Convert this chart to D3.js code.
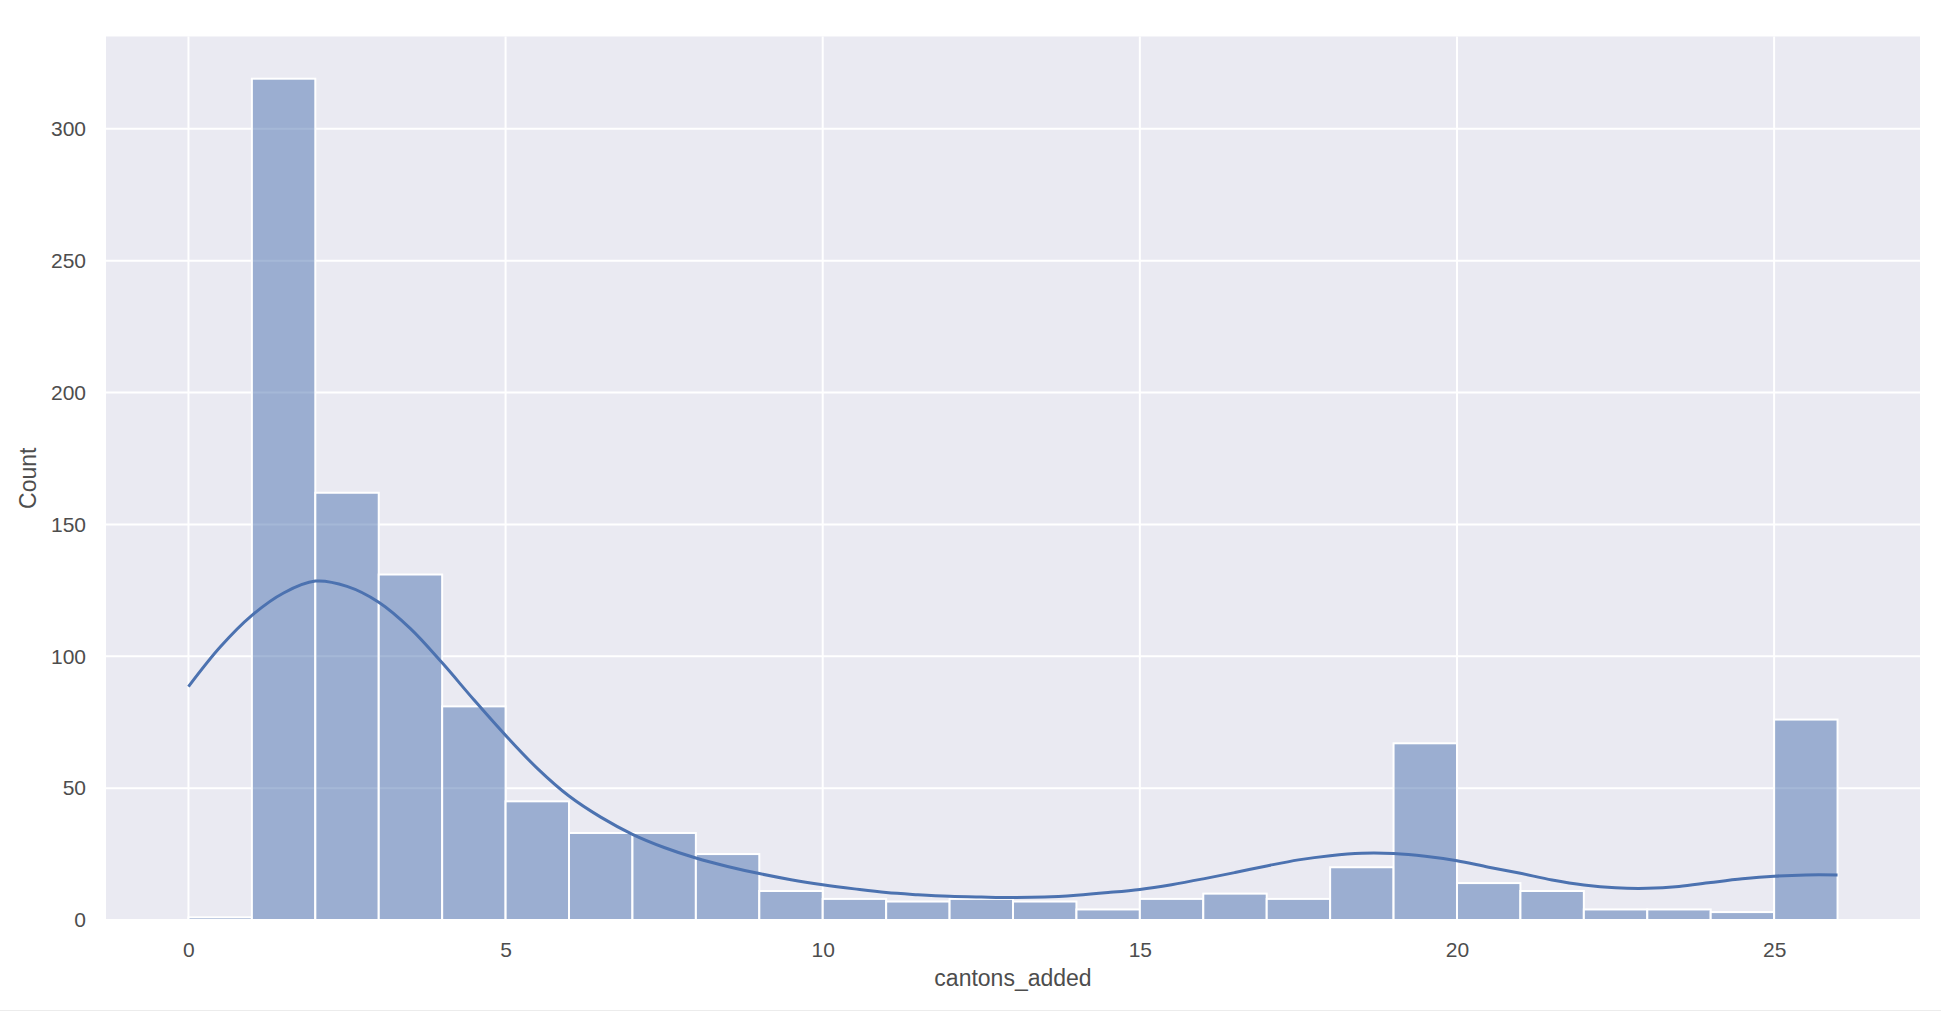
<!DOCTYPE html>
<html>
<head>
<meta charset="utf-8">
<script src="https://cdn.jsdelivr.net/npm/d3@7"></script>
<style>
  html, body { margin: 0; padding: 0; background: #ffffff; }
  svg { display: block; }
  text { font-family: "Liberation Sans", Arial, sans-serif; fill: #4d4d4d; }
</style>
</head>
<body>
<svg id="chart" width="1941" height="1013"></svg>
<script>
// ---- data ----
const binEdges = [0,1,2,3,4,5,6,7,8,9,10,11,12,13,14,15,16,17,18,19,20,21,22,23,24,25,26];
const binCounts = [1,319,162,131,81,45,33,33,25,11,8,7,8,7,4,8,10,8,20,67,14,11,4,4,3,76];
const kdeX = [0,0.5,1,1.5,2,2.5,3,3.5,4,4.5,5,5.5,6,6.5,7,7.5,8,8.5,9,9.5,10,10.5,11,11.5,12,12.5,13,13.5,14,14.5,15,15.5,16,16.5,17,17.5,18,18.5,19,19.5,20,20.5,21,21.5,22,22.5,23,23.5,24,24.5,25,25.5,26];
const kdeY = [88.5,103.5,115.5,124,128.5,126.5,120.5,110.5,97.5,83.5,70,57.5,47,39,32.5,27.5,23.5,20.3,17.6,15.3,13.4,11.8,10.4,9.6,9,8.7,8.5,8.7,9.4,10.4,11.6,13.4,15.6,18,20.5,22.8,24.4,25.3,25.2,24.2,22.5,20,17.7,15.2,13.3,12.2,12,12.7,14.2,15.6,16.6,17.1,17.1];
const xTicks = [0,5,10,15,20,25];
const yTicks = [0,50,100,150,200,250,300];
const xLabel = "cantons_added";
const yLabel = "Count";

// ---- layout ----
const svg = d3.select("#chart");
const pLeft = 106, pRight = 1920, pTop = 36.5, pBottom = 920;
const x = d3.scaleLinear().domain([-1.3, 27.3]).range([pLeft, pRight]);
const y = d3.scaleLinear().domain([0, 335]).range([pBottom, pTop]);

// bottom border of the screenshot
svg.append("line").attr("x1", 0).attr("x2", 1941).attr("y1", 1010.5).attr("y2", 1010.5)
  .attr("stroke", "#ececec").attr("stroke-width", 1);

// background
svg.append("rect").attr("x", pLeft).attr("y", pTop)
  .attr("width", pRight - pLeft).attr("height", pBottom - pTop).attr("fill", "#eaeaf2");

// grid
const grid = svg.append("g");
grid.selectAll(".gx").data(xTicks).enter().append("line")
  .attr("x1", d => x(d)).attr("x2", d => x(d)).attr("y1", pTop).attr("y2", pBottom)
  .attr("stroke", "#ffffff").attr("stroke-width", 2);
grid.selectAll(".gy").data(yTicks).enter().append("line")
  .attr("x1", pLeft).attr("x2", pRight).attr("y1", d => y(d)).attr("y2", d => y(d))
  .attr("stroke", "#ffffff").attr("stroke-width", 2);

// bars
const bins = binCounts.map((c, i) => ({x0: binEdges[i], x1: binEdges[i + 1], c}));
svg.append("g").selectAll("rect").data(bins).enter().append("rect")
  .attr("x", d => x(d.x0))
  .attr("width", d => x(d.x1) - x(d.x0))
  .attr("y", d => y(d.c))
  .attr("height", d => y(0) - y(d.c))
  .attr("fill", "#4c72b0").attr("fill-opacity", 0.5)
  .attr("stroke", "#ffffff").attr("stroke-width", 2);

// kde
const kde = kdeX.map((v, i) => [v, kdeY[i]]);
svg.append("path").datum(kde)
  .attr("d", d3.line().x(d => x(d[0])).y(d => y(d[1])).curve(d3.curveCatmullRom))
  .attr("fill", "none").attr("stroke", "#4c72b0").attr("stroke-width", 3)
  .attr("stroke-linecap", "butt");

// axes (tick labels only, seaborn darkgrid style)
const xAxis = svg.append("g").attr("transform", `translate(0,${pBottom})`)
  .call(d3.axisBottom(x).tickValues(xTicks).tickSize(0).tickPadding(22).tickFormat(d3.format("d")));
const yAxis = svg.append("g").attr("transform", `translate(${pLeft},0)`)
  .call(d3.axisLeft(y).tickValues(yTicks).tickSize(0).tickPadding(20).tickFormat(d3.format("d")));
[xAxis, yAxis].forEach(a => {
  a.select(".domain").remove();
  a.selectAll("text").style("font-size", "21px").attr("fill", "#4d4d4d")
    .style("font-family", '"Liberation Sans", Arial, sans-serif');
});

// axis labels
svg.append("text").attr("x", (pLeft + pRight) / 2).attr("y", 986)
  .attr("text-anchor", "middle").style("font-size", "23px").text(xLabel);
svg.append("text")
  .attr("transform", `translate(36,${(pTop + pBottom) / 2}) rotate(-90)`)
  .attr("text-anchor", "middle").style("font-size", "23px").text(yLabel);
</script>
</body>
</html>
